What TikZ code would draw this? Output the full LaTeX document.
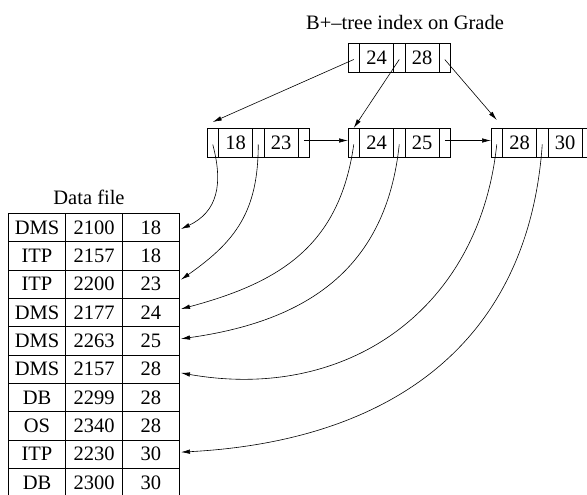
\documentclass[tikz,border=0pt]{standalone}
\usepackage{fontspec}
\setmainfont{Liberation Serif}
\usetikzlibrary{arrows.meta,calc}
\tikzset{
  cell/.style={draw, line width=0.7pt, inner sep=0pt, outer sep=0pt, minimum height=29pt, anchor=west},
  ptr/.style={cell, minimum width=11.5pt},
  key/.style={cell, minimum width=34pt},
  tcell/.style={draw, line width=0.7pt, inner sep=0pt, outer sep=0pt, minimum height=28.33pt, anchor=west},
  arr/.style={line width=0.6pt, -{Latex[length=9pt,width=4.5pt]}},
  lbl/.style={inner sep=0pt}
}
\newcommand\bpnode[5]{%
  \node[ptr] (#1p0) at (#2,#3) {};
  \node[key] (#1k1) at (#1p0.east) {#4};
  \node[ptr] (#1p1) at (#1k1.east) {};
  \node[key] (#1k2) at (#1p1.east) {#5};
  \node[ptr] (#1p2) at (#1k2.east) {};
}
\begin{document}
\begin{tikzpicture}[x=1pt,y=-1pt,every node/.style={font=\fontsize{20.5}{24}\selectfont}]
\useasboundingbox (0,0) rectangle (587,495);
\node[lbl] (title) at (405,22) {B+--tree index on Grade};
\bpnode{r}{348}{57.5}{24}{28}
\bpnode{a}{207}{142.5}{18}{23}
\bpnode{b}{348}{142.5}{24}{25}
\bpnode{c}{491}{142.5}{28}{30}
% root pointers
\draw[arr] ([yshift=-2pt]rp0.center) -- ([yshift=6pt]ap0.north);
\draw[arr] ([yshift=-2pt]rp1.center) -- (bp0.north);
\draw[arr] ([yshift=-2pt]rp2.center) -- ([yshift=8pt]cp0.north);
% leaf links
\draw[arr] ([yshift=2pt]ap2.center) -- ([yshift=2pt]bp0.west);
\draw[arr] ([yshift=2pt]bp2.center) -- ([yshift=2pt]cp0.west);
% data file
\node[lbl] (dfl) at (89,197) {Data file};
\foreach \u/\v/\w [count=\i] in {DMS/2100/18, ITP/2157/18, ITP/2200/23, DMS/2177/24, DMS/2263/25, DMS/2157/28, DB/2299/28, OS/2340/28, ITP/2230/30, DB/2300/30}{
  \pgfmathsetmacro\yy{213.33+28.33*(\i-0.5)}
  \node[tcell, minimum width=57.4pt] (t\i a) at (8.3,\yy) {\u};
  \node[tcell, minimum width=57pt] (t\i b) at (t\i a.east) {\v};
  \node[tcell, minimum width=56.3pt] (t\i c) at (t\i b.east) {\w};
}
% pointers from leaves to records
\draw[arr] ([yshift=-2pt]ap0.center) to[out=-75,in=25,looseness=1.15] ([shift={(2pt,-1.5pt)}]t1c.east);
\draw[arr] ([yshift=-2pt]ap1.center) to[out=-90,in=35,looseness=1.1] ([shift={(2pt,4.5pt)}]t3c.east);
\draw[arr] ([yshift=-2pt]bp0.center) to[out=-98,in=15,looseness=1.1] ([shift={(2pt,3.5pt)}]t4c.east);
\draw[arr] ([yshift=-2pt]bp1.center) to[out=-96,in=8,looseness=1.1] ([shift={(2pt,2pt)}]t5c.east);
\draw[arr] ([yshift=-2pt]cp0.center) to[out=-96,in=-10,looseness=1.1] ([shift={(2pt,-3.8pt)}]t6c.east);
\draw[arr] ([yshift=-2pt]cp1.center) to[out=-94,in=3,looseness=1.1] ([shift={(2pt,2pt)}]t9c.east);
\end{tikzpicture}
\end{document}
